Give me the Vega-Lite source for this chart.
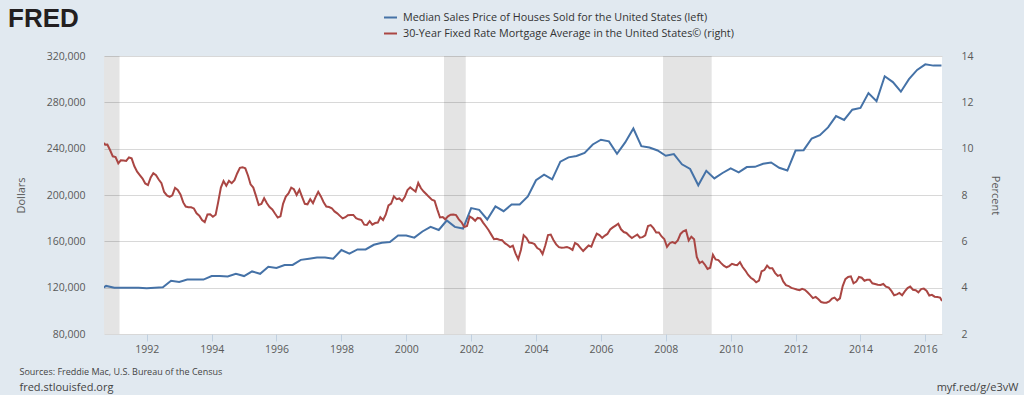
{
  "$schema": "https://vega.github.io/schema/vega-lite/v6.json",
  "width": 838,
  "height": 278,
  "autosize": "none",
  "padding": {"left": 104, "top": 56, "right": 82, "bottom": 61},
  "background": "#e1e9f0",
  "view": {"fill": "#ffffff", "stroke": null},
  "title": {"text": "FRED", "anchor": "start", "frame": "group", "dx": -96, "offset": -43, "font": "Liberation Sans", "fontSize": 26, "fontWeight": "bold", "color": "#231f20", "baseline": "alphabetic"},
  "datasets": {
    "recessions": [
      {"start": "1990-07-01", "end": "1991-03-01"},
      {"start": "2001-03-01", "end": "2001-11-01"},
      {"start": "2007-12-01", "end": "2009-06-01"}
    ],
    "price": [
      {"date": "1990-07-01", "price": 117000}, {"date": "1990-10-01", "price": 121500},
      {"date": "1991-01-01", "price": 120000}, {"date": "1991-04-01", "price": 120000}, {"date": "1991-07-01", "price": 120000}, {"date": "1991-10-01", "price": 120000},
      {"date": "1992-01-01", "price": 119500}, {"date": "1992-04-01", "price": 120000}, {"date": "1992-07-01", "price": 120300}, {"date": "1992-10-01", "price": 126000},
      {"date": "1993-01-01", "price": 125000}, {"date": "1993-04-01", "price": 127000}, {"date": "1993-07-01", "price": 127000}, {"date": "1993-10-01", "price": 127000},
      {"date": "1994-01-01", "price": 130000}, {"date": "1994-04-01", "price": 130000}, {"date": "1994-07-01", "price": 129700}, {"date": "1994-10-01", "price": 132000},
      {"date": "1995-01-01", "price": 130000}, {"date": "1995-04-01", "price": 134000}, {"date": "1995-07-01", "price": 132000}, {"date": "1995-10-01", "price": 138000},
      {"date": "1996-01-01", "price": 137000}, {"date": "1996-04-01", "price": 139600}, {"date": "1996-07-01", "price": 139600}, {"date": "1996-10-01", "price": 144000},
      {"date": "1997-01-01", "price": 145000}, {"date": "1997-04-01", "price": 146000}, {"date": "1997-07-01", "price": 146000}, {"date": "1997-10-01", "price": 145000},
      {"date": "1998-01-01", "price": 152500}, {"date": "1998-04-01", "price": 149400}, {"date": "1998-07-01", "price": 153000}, {"date": "1998-10-01", "price": 153000},
      {"date": "1999-01-01", "price": 157000}, {"date": "1999-04-01", "price": 158800}, {"date": "1999-07-01", "price": 159400}, {"date": "1999-10-01", "price": 165000},
      {"date": "2000-01-01", "price": 165000}, {"date": "2000-04-01", "price": 163200}, {"date": "2000-07-01", "price": 168500}, {"date": "2000-10-01", "price": 172500},
      {"date": "2001-01-01", "price": 169800}, {"date": "2001-04-01", "price": 178000}, {"date": "2001-07-01", "price": 172500}, {"date": "2001-10-01", "price": 171000},
      {"date": "2002-01-01", "price": 188700}, {"date": "2002-04-01", "price": 187200}, {"date": "2002-07-01", "price": 178900}, {"date": "2002-10-01", "price": 190100},
      {"date": "2003-01-01", "price": 186000}, {"date": "2003-04-01", "price": 191800}, {"date": "2003-07-01", "price": 191900}, {"date": "2003-10-01", "price": 198800},
      {"date": "2004-01-01", "price": 212700}, {"date": "2004-04-01", "price": 217600}, {"date": "2004-07-01", "price": 213500}, {"date": "2004-10-01", "price": 228800},
      {"date": "2005-01-01", "price": 232500}, {"date": "2005-04-01", "price": 233700}, {"date": "2005-07-01", "price": 236400}, {"date": "2005-10-01", "price": 243600},
      {"date": "2006-01-01", "price": 247700}, {"date": "2006-04-01", "price": 246300}, {"date": "2006-07-01", "price": 235600}, {"date": "2006-10-01", "price": 245400},
      {"date": "2007-01-01", "price": 257400}, {"date": "2007-04-01", "price": 242200}, {"date": "2007-07-01", "price": 241000}, {"date": "2007-10-01", "price": 238400},
      {"date": "2008-01-01", "price": 233900}, {"date": "2008-04-01", "price": 235300}, {"date": "2008-07-01", "price": 226500}, {"date": "2008-10-01", "price": 222500},
      {"date": "2009-01-01", "price": 208400}, {"date": "2009-04-01", "price": 220900}, {"date": "2009-07-01", "price": 214300}, {"date": "2009-10-01", "price": 219000},
      {"date": "2010-01-01", "price": 222900}, {"date": "2010-04-01", "price": 219500}, {"date": "2010-07-01", "price": 224100}, {"date": "2010-10-01", "price": 224300},
      {"date": "2011-01-01", "price": 226900}, {"date": "2011-04-01", "price": 228100}, {"date": "2011-07-01", "price": 223500}, {"date": "2011-10-01", "price": 221100},
      {"date": "2012-01-01", "price": 238400}, {"date": "2012-04-01", "price": 238700}, {"date": "2012-07-01", "price": 248800}, {"date": "2012-10-01", "price": 251700},
      {"date": "2013-01-01", "price": 258400}, {"date": "2013-04-01", "price": 268100}, {"date": "2013-07-01", "price": 264800}, {"date": "2013-10-01", "price": 273600},
      {"date": "2014-01-01", "price": 275200}, {"date": "2014-04-01", "price": 288000}, {"date": "2014-07-01", "price": 281000}, {"date": "2014-10-01", "price": 302500},
      {"date": "2015-01-01", "price": 297500}, {"date": "2015-04-01", "price": 289200}, {"date": "2015-07-01", "price": 300000}, {"date": "2015-10-01", "price": 308000},
      {"date": "2016-01-01", "price": 312800}, {"date": "2016-04-01", "price": 311700}, {"date": "2016-07-01", "price": 311700}
    ],
    "mortgage": [
      {"date": "1990-09-07", "rate": 10.25}, {"date": "1990-09-20", "rate": 10.17}, {"date": "1990-10-15", "rate": 10.18}, {"date": "1990-11-15", "rate": 9.93}, {"date": "1990-12-15", "rate": 9.67},
      {"date": "1991-01-15", "rate": 9.64}, {"date": "1991-02-15", "rate": 9.37}, {"date": "1991-03-15", "rate": 9.5}, {"date": "1991-04-15", "rate": 9.49}, {"date": "1991-05-15", "rate": 9.47}, {"date": "1991-06-15", "rate": 9.62}, {"date": "1991-07-15", "rate": 9.58}, {"date": "1991-08-15", "rate": 9.24}, {"date": "1991-09-15", "rate": 9.01}, {"date": "1991-10-15", "rate": 8.86}, {"date": "1991-11-15", "rate": 8.71}, {"date": "1991-12-15", "rate": 8.5},
      {"date": "1992-01-15", "rate": 8.43}, {"date": "1992-02-15", "rate": 8.76}, {"date": "1992-03-15", "rate": 8.94}, {"date": "1992-04-15", "rate": 8.85}, {"date": "1992-05-15", "rate": 8.67}, {"date": "1992-06-15", "rate": 8.51}, {"date": "1992-07-15", "rate": 8.13}, {"date": "1992-08-15", "rate": 7.98}, {"date": "1992-09-15", "rate": 7.92}, {"date": "1992-10-15", "rate": 7.99}, {"date": "1992-11-15", "rate": 8.31}, {"date": "1992-12-15", "rate": 8.22},
      {"date": "1993-01-15", "rate": 8.02}, {"date": "1993-02-15", "rate": 7.68}, {"date": "1993-03-15", "rate": 7.5}, {"date": "1993-04-15", "rate": 7.47}, {"date": "1993-05-15", "rate": 7.47}, {"date": "1993-06-15", "rate": 7.42}, {"date": "1993-07-15", "rate": 7.21}, {"date": "1993-08-15", "rate": 7.11}, {"date": "1993-09-15", "rate": 6.92}, {"date": "1993-10-15", "rate": 6.83}, {"date": "1993-11-15", "rate": 7.16}, {"date": "1993-12-15", "rate": 7.17},
      {"date": "1994-01-15", "rate": 7.06}, {"date": "1994-02-15", "rate": 7.15}, {"date": "1994-03-15", "rate": 7.68}, {"date": "1994-04-15", "rate": 8.32}, {"date": "1994-05-15", "rate": 8.6}, {"date": "1994-06-15", "rate": 8.4}, {"date": "1994-07-15", "rate": 8.61}, {"date": "1994-08-15", "rate": 8.51}, {"date": "1994-09-15", "rate": 8.64}, {"date": "1994-10-15", "rate": 8.93}, {"date": "1994-11-15", "rate": 9.17}, {"date": "1994-12-15", "rate": 9.2},
      {"date": "1995-01-15", "rate": 9.15}, {"date": "1995-02-15", "rate": 8.83}, {"date": "1995-03-15", "rate": 8.46}, {"date": "1995-04-15", "rate": 8.32}, {"date": "1995-05-15", "rate": 7.96}, {"date": "1995-06-15", "rate": 7.57}, {"date": "1995-07-15", "rate": 7.61}, {"date": "1995-08-15", "rate": 7.86}, {"date": "1995-09-15", "rate": 7.64}, {"date": "1995-10-15", "rate": 7.48}, {"date": "1995-11-15", "rate": 7.38}, {"date": "1995-12-15", "rate": 7.2},
      {"date": "1996-01-15", "rate": 7.03}, {"date": "1996-02-15", "rate": 7.08}, {"date": "1996-03-15", "rate": 7.62}, {"date": "1996-04-15", "rate": 7.93}, {"date": "1996-05-15", "rate": 8.07}, {"date": "1996-06-15", "rate": 8.32}, {"date": "1996-07-15", "rate": 8.25}, {"date": "1996-08-15", "rate": 8.0}, {"date": "1996-09-15", "rate": 8.23}, {"date": "1996-10-15", "rate": 7.92}, {"date": "1996-11-15", "rate": 7.62}, {"date": "1996-12-15", "rate": 7.6},
      {"date": "1997-01-15", "rate": 7.82}, {"date": "1997-02-15", "rate": 7.65}, {"date": "1997-03-15", "rate": 7.9}, {"date": "1997-04-15", "rate": 8.14}, {"date": "1997-05-15", "rate": 7.94}, {"date": "1997-06-15", "rate": 7.69}, {"date": "1997-07-15", "rate": 7.5}, {"date": "1997-08-15", "rate": 7.48}, {"date": "1997-09-15", "rate": 7.43}, {"date": "1997-10-15", "rate": 7.29}, {"date": "1997-11-15", "rate": 7.21}, {"date": "1997-12-15", "rate": 7.1},
      {"date": "1998-01-15", "rate": 6.99}, {"date": "1998-02-15", "rate": 7.04}, {"date": "1998-03-15", "rate": 7.13}, {"date": "1998-04-15", "rate": 7.14}, {"date": "1998-05-15", "rate": 7.14}, {"date": "1998-06-15", "rate": 7.0}, {"date": "1998-07-15", "rate": 6.95}, {"date": "1998-08-15", "rate": 6.92}, {"date": "1998-09-15", "rate": 6.72}, {"date": "1998-10-15", "rate": 6.71}, {"date": "1998-11-15", "rate": 6.87}, {"date": "1998-12-15", "rate": 6.72},
      {"date": "1999-01-15", "rate": 6.79}, {"date": "1999-02-15", "rate": 6.81}, {"date": "1999-03-15", "rate": 7.04}, {"date": "1999-04-15", "rate": 6.92}, {"date": "1999-05-15", "rate": 7.15}, {"date": "1999-06-15", "rate": 7.55}, {"date": "1999-07-15", "rate": 7.63}, {"date": "1999-08-15", "rate": 7.94}, {"date": "1999-09-15", "rate": 7.82}, {"date": "1999-10-15", "rate": 7.85}, {"date": "1999-11-15", "rate": 7.74}, {"date": "1999-12-15", "rate": 7.91},
      {"date": "2000-01-15", "rate": 8.21}, {"date": "2000-02-15", "rate": 8.33}, {"date": "2000-03-15", "rate": 8.24}, {"date": "2000-04-15", "rate": 8.15}, {"date": "2000-05-15", "rate": 8.52}, {"date": "2000-06-15", "rate": 8.29}, {"date": "2000-07-15", "rate": 8.15}, {"date": "2000-08-15", "rate": 8.03}, {"date": "2000-09-15", "rate": 7.91}, {"date": "2000-10-15", "rate": 7.8}, {"date": "2000-11-15", "rate": 7.75}, {"date": "2000-12-15", "rate": 7.38},
      {"date": "2001-01-15", "rate": 7.03}, {"date": "2001-02-15", "rate": 7.05}, {"date": "2001-03-15", "rate": 6.95}, {"date": "2001-04-15", "rate": 7.08}, {"date": "2001-05-15", "rate": 7.15}, {"date": "2001-06-15", "rate": 7.16}, {"date": "2001-07-15", "rate": 7.13}, {"date": "2001-08-15", "rate": 6.95}, {"date": "2001-09-15", "rate": 6.82}, {"date": "2001-10-15", "rate": 6.62}, {"date": "2001-11-15", "rate": 6.66}, {"date": "2001-12-15", "rate": 7.07},
      {"date": "2002-01-15", "rate": 7.0}, {"date": "2002-02-15", "rate": 6.89}, {"date": "2002-03-15", "rate": 7.01}, {"date": "2002-04-15", "rate": 6.99}, {"date": "2002-05-15", "rate": 6.81}, {"date": "2002-06-15", "rate": 6.65}, {"date": "2002-07-15", "rate": 6.49}, {"date": "2002-08-15", "rate": 6.29}, {"date": "2002-09-15", "rate": 6.09}, {"date": "2002-10-15", "rate": 6.11}, {"date": "2002-11-15", "rate": 6.07}, {"date": "2002-12-15", "rate": 6.05},
      {"date": "2003-01-15", "rate": 5.92}, {"date": "2003-02-15", "rate": 5.84}, {"date": "2003-03-15", "rate": 5.75}, {"date": "2003-04-15", "rate": 5.81}, {"date": "2003-05-15", "rate": 5.48}, {"date": "2003-06-15", "rate": 5.23}, {"date": "2003-07-15", "rate": 5.63}, {"date": "2003-08-15", "rate": 6.26}, {"date": "2003-09-15", "rate": 6.15}, {"date": "2003-10-15", "rate": 5.95}, {"date": "2003-11-15", "rate": 5.93}, {"date": "2003-12-15", "rate": 5.88},
      {"date": "2004-01-15", "rate": 5.71}, {"date": "2004-02-15", "rate": 5.64}, {"date": "2004-03-15", "rate": 5.45}, {"date": "2004-04-15", "rate": 5.83}, {"date": "2004-05-15", "rate": 6.27}, {"date": "2004-06-15", "rate": 6.29}, {"date": "2004-07-15", "rate": 6.06}, {"date": "2004-08-15", "rate": 5.87}, {"date": "2004-09-15", "rate": 5.75}, {"date": "2004-10-15", "rate": 5.72}, {"date": "2004-11-15", "rate": 5.73}, {"date": "2004-12-15", "rate": 5.75},
      {"date": "2005-01-15", "rate": 5.71}, {"date": "2005-02-15", "rate": 5.63}, {"date": "2005-03-15", "rate": 5.93}, {"date": "2005-04-15", "rate": 5.86}, {"date": "2005-05-15", "rate": 5.72}, {"date": "2005-06-15", "rate": 5.58}, {"date": "2005-07-15", "rate": 5.7}, {"date": "2005-08-15", "rate": 5.82}, {"date": "2005-09-15", "rate": 5.77}, {"date": "2005-10-15", "rate": 6.07}, {"date": "2005-11-15", "rate": 6.33}, {"date": "2005-12-15", "rate": 6.27},
      {"date": "2006-01-15", "rate": 6.15}, {"date": "2006-02-15", "rate": 6.25}, {"date": "2006-03-15", "rate": 6.32}, {"date": "2006-04-15", "rate": 6.51}, {"date": "2006-05-15", "rate": 6.6}, {"date": "2006-06-15", "rate": 6.68}, {"date": "2006-07-15", "rate": 6.76}, {"date": "2006-08-15", "rate": 6.52}, {"date": "2006-09-15", "rate": 6.4}, {"date": "2006-10-15", "rate": 6.36}, {"date": "2006-11-15", "rate": 6.24}, {"date": "2006-12-15", "rate": 6.14},
      {"date": "2007-01-15", "rate": 6.22}, {"date": "2007-02-15", "rate": 6.29}, {"date": "2007-03-15", "rate": 6.16}, {"date": "2007-04-15", "rate": 6.18}, {"date": "2007-05-15", "rate": 6.26}, {"date": "2007-06-15", "rate": 6.66}, {"date": "2007-07-15", "rate": 6.7}, {"date": "2007-08-15", "rate": 6.57}, {"date": "2007-09-15", "rate": 6.38}, {"date": "2007-10-15", "rate": 6.38}, {"date": "2007-11-15", "rate": 6.21}, {"date": "2007-12-15", "rate": 6.1},
      {"date": "2008-01-15", "rate": 5.76}, {"date": "2008-02-15", "rate": 5.92}, {"date": "2008-03-15", "rate": 5.97}, {"date": "2008-04-15", "rate": 5.92}, {"date": "2008-05-15", "rate": 6.04}, {"date": "2008-06-15", "rate": 6.32}, {"date": "2008-07-15", "rate": 6.43}, {"date": "2008-08-15", "rate": 6.48}, {"date": "2008-09-15", "rate": 6.04}, {"date": "2008-10-15", "rate": 6.2}, {"date": "2008-11-15", "rate": 6.09}, {"date": "2008-12-15", "rate": 5.33},
      {"date": "2009-01-15", "rate": 5.06}, {"date": "2009-02-15", "rate": 5.13}, {"date": "2009-03-15", "rate": 5.0}, {"date": "2009-04-15", "rate": 4.81}, {"date": "2009-05-15", "rate": 4.86}, {"date": "2009-06-15", "rate": 5.42}, {"date": "2009-07-15", "rate": 5.22}, {"date": "2009-08-15", "rate": 5.19}, {"date": "2009-09-15", "rate": 5.06}, {"date": "2009-10-15", "rate": 4.95}, {"date": "2009-11-15", "rate": 4.88}, {"date": "2009-12-15", "rate": 4.93},
      {"date": "2010-01-15", "rate": 5.03}, {"date": "2010-02-15", "rate": 4.99}, {"date": "2010-03-15", "rate": 4.97}, {"date": "2010-04-15", "rate": 5.1}, {"date": "2010-05-15", "rate": 4.89}, {"date": "2010-06-15", "rate": 4.74}, {"date": "2010-07-15", "rate": 4.56}, {"date": "2010-08-15", "rate": 4.43}, {"date": "2010-09-15", "rate": 4.35}, {"date": "2010-10-15", "rate": 4.23}, {"date": "2010-11-15", "rate": 4.3}, {"date": "2010-12-15", "rate": 4.71},
      {"date": "2011-01-15", "rate": 4.76}, {"date": "2011-02-15", "rate": 4.95}, {"date": "2011-03-15", "rate": 4.84}, {"date": "2011-04-15", "rate": 4.84}, {"date": "2011-05-15", "rate": 4.64}, {"date": "2011-06-15", "rate": 4.51}, {"date": "2011-07-15", "rate": 4.55}, {"date": "2011-08-15", "rate": 4.27}, {"date": "2011-09-15", "rate": 4.11}, {"date": "2011-10-15", "rate": 4.07}, {"date": "2011-11-15", "rate": 3.99}, {"date": "2011-12-15", "rate": 3.96},
      {"date": "2012-01-15", "rate": 3.92}, {"date": "2012-02-15", "rate": 3.89}, {"date": "2012-03-15", "rate": 3.95}, {"date": "2012-04-15", "rate": 3.91}, {"date": "2012-05-15", "rate": 3.8}, {"date": "2012-06-15", "rate": 3.68}, {"date": "2012-07-15", "rate": 3.55}, {"date": "2012-08-15", "rate": 3.6}, {"date": "2012-09-15", "rate": 3.5}, {"date": "2012-10-15", "rate": 3.38}, {"date": "2012-11-15", "rate": 3.35}, {"date": "2012-12-15", "rate": 3.35},
      {"date": "2013-01-15", "rate": 3.41}, {"date": "2013-02-15", "rate": 3.53}, {"date": "2013-03-15", "rate": 3.57}, {"date": "2013-04-15", "rate": 3.45}, {"date": "2013-05-15", "rate": 3.54}, {"date": "2013-06-15", "rate": 4.07}, {"date": "2013-07-15", "rate": 4.37}, {"date": "2013-08-15", "rate": 4.46}, {"date": "2013-09-15", "rate": 4.49}, {"date": "2013-10-15", "rate": 4.19}, {"date": "2013-11-15", "rate": 4.26}, {"date": "2013-12-15", "rate": 4.46},
      {"date": "2014-01-15", "rate": 4.43}, {"date": "2014-02-15", "rate": 4.3}, {"date": "2014-03-15", "rate": 4.34}, {"date": "2014-04-15", "rate": 4.34}, {"date": "2014-05-15", "rate": 4.19}, {"date": "2014-06-15", "rate": 4.16}, {"date": "2014-07-15", "rate": 4.13}, {"date": "2014-08-15", "rate": 4.12}, {"date": "2014-09-15", "rate": 4.16}, {"date": "2014-10-15", "rate": 4.04}, {"date": "2014-11-15", "rate": 4.0}, {"date": "2014-12-15", "rate": 3.86},
      {"date": "2015-01-15", "rate": 3.67}, {"date": "2015-02-15", "rate": 3.71}, {"date": "2015-03-15", "rate": 3.77}, {"date": "2015-04-15", "rate": 3.67}, {"date": "2015-05-15", "rate": 3.84}, {"date": "2015-06-15", "rate": 3.98}, {"date": "2015-07-15", "rate": 4.05}, {"date": "2015-08-15", "rate": 3.91}, {"date": "2015-09-15", "rate": 3.89}, {"date": "2015-10-15", "rate": 3.8}, {"date": "2015-11-15", "rate": 3.94}, {"date": "2015-12-15", "rate": 3.96},
      {"date": "2016-01-15", "rate": 3.87}, {"date": "2016-02-15", "rate": 3.66}, {"date": "2016-03-15", "rate": 3.69}, {"date": "2016-04-15", "rate": 3.61}, {"date": "2016-05-15", "rate": 3.6}, {"date": "2016-06-15", "rate": 3.57}, {"date": "2016-07-07", "rate": 3.42}
    ]
  },
  "layer": [
    {
      "data": {"name": "recessions"},
      "mark": {"type": "rect", "fill": "#000000", "fillOpacity": 0.105, "clip": true},
      "encoding": {
        "x": {"field": "start", "type": "temporal",
          "scale": {"type": "utc", "domain": [{"year": 1990, "month": 9, "date": 7, "utc": true}, {"year": 2016, "month": 7, "date": 7, "utc": true}], "nice": false},
          "axis": {"orient": "bottom", "format": "%Y", "grid": false, "domain": false, "ticks": true, "tickColor": "#c0d0e0", "tickSize": 7, "labelPadding": 3, "labelFont": "Open Sans", "labelFontSize": 10.5, "labelColor": "#595959",
            "values": [{"year": 1992, "utc": true}, {"year": 1994, "utc": true}, {"year": 1996, "utc": true}, {"year": 1998, "utc": true}, {"year": 2000, "utc": true}, {"year": 2002, "utc": true}, {"year": 2004, "utc": true}, {"year": 2006, "utc": true}, {"year": 2008, "utc": true}, {"year": 2010, "utc": true}, {"year": 2012, "utc": true}, {"year": 2014, "utc": true}, {"year": 2016, "utc": true}],
            "title": "Sources: Freddie Mac, U.S. Bureau of the Census", "titleX": -85, "titleY": 40, "titleAlign": "left", "titleAnchor": null, "titleBaseline": "alphabetic", "titleFont": "Open Sans", "titleFontSize": 9, "titleFontWeight": "normal", "titleColor": "#444444"}},
        "x2": {"field": "end"}
      }
    },
    {
      "data": {"name": "price"},
      "mark": {"type": "line", "strokeWidth": 2, "clip": true},
      "encoding": {
        "x": {"field": "date", "type": "temporal",
          "scale": {"type": "utc", "domain": [{"year": 1990, "month": 9, "date": 7, "utc": true}, {"year": 2016, "month": 7, "date": 7, "utc": true}], "nice": false},
          "axis": {"orient": "bottom", "labels": false, "ticks": false, "domain": false, "grid": false,
            "title": "fred.stlouisfed.org", "titleX": -85, "titleY": 56, "titleAlign": "left", "titleBaseline": "alphabetic", "titleFont": "Open Sans", "titleFontSize": 11, "titleFontWeight": "normal", "titleColor": "#444444"}},
        "y": {"field": "price", "type": "quantitative",
          "scale": {"domain": [80000, 320000], "nice": false, "zero": false},
          "axis": {"orient": "left", "values": [80000, 120000, 160000, 200000, 240000, 280000, 320000], "format": ",.0f", "grid": true, "gridColor": "#d8d8d8", "gridWidth": 1, "domain": false, "ticks": false, "tickSize": 0, "labelPadding": 19, "labelFont": "Open Sans", "labelFontSize": 10.5, "labelColor": "#595959",
            "title": "Dollars", "titleX": -80, "titleY": 139, "titleAngle": -90, "titleAlign": "center", "titleBaseline": "alphabetic", "titleFont": "Open Sans", "titleFontSize": 11, "titleFontWeight": "normal", "titleColor": "#595959"}},
        "color": {"datum": "Median Sales Price of Houses Sold for the United States (left)",
          "scale": {"domain": ["Median Sales Price of Houses Sold for the United States (left)", "30-Year Fixed Rate Mortgage Average in the United States© (right)"], "range": ["#4572a7", "#aa4643"]},
          "legend": {"orient": "none", "legendX": 279, "legendY": -46, "title": null, "symbolType": "stroke", "symbolSize": 169, "symbolStrokeWidth": 2, "labelFont": "Open Sans", "labelFontSize": 10.8, "labelColor": "#333333", "labelOffset": 5, "rowPadding": 3, "padding": 0, "direction": "vertical", "labelLimit": 500}}
      }
    },
    {
      "data": {"name": "mortgage"},
      "mark": {"type": "line", "strokeWidth": 2, "clip": true},
      "encoding": {
        "x": {"field": "date", "type": "temporal",
          "scale": {"type": "utc", "domain": [{"year": 1990, "month": 9, "date": 7, "utc": true}, {"year": 2016, "month": 7, "date": 7, "utc": true}], "nice": false},
          "axis": {"orient": "bottom", "labels": false, "ticks": false, "domain": false, "grid": false,
            "title": "myf.red/g/e3vW", "titleX": 914, "titleY": 56, "titleAlign": "right", "titleBaseline": "alphabetic", "titleFont": "Open Sans", "titleFontSize": 11, "titleFontWeight": "normal", "titleColor": "#444444"}},
        "y": {"field": "rate", "type": "quantitative",
          "scale": {"domain": [2, 14], "nice": false, "zero": false},
          "axis": {"orient": "right", "values": [2, 4, 6, 8, 10, 12, 14], "grid": false, "domain": false, "ticks": false, "tickSize": 0, "labelPadding": 19, "labelFont": "Open Sans", "labelFontSize": 10.5, "labelColor": "#595959",
            "title": "Percent", "titleX": 49, "titleY": 139, "titleAngle": 90, "titleAlign": "center", "titleBaseline": "alphabetic", "titleFont": "Open Sans", "titleFontSize": 11, "titleFontWeight": "normal", "titleColor": "#595959"}},
        "color": {"datum": "30-Year Fixed Rate Mortgage Average in the United States© (right)"}
      }
    }
  ],
  "resolve": {"scale": {"y": "independent"}, "axis": {"x": "independent", "y": "independent"}}
}
